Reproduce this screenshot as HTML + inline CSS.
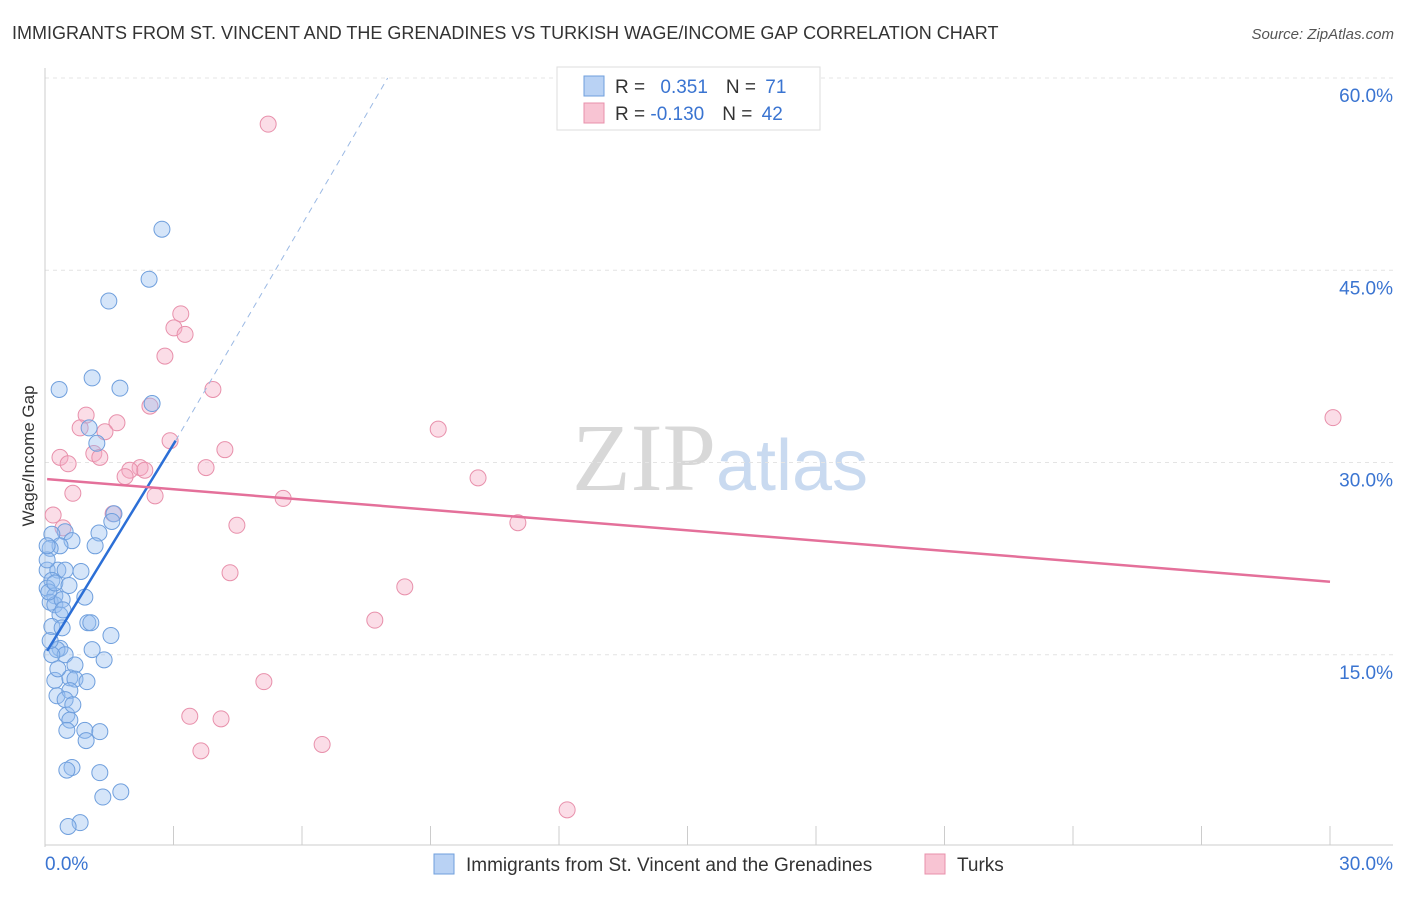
<!DOCTYPE html>
<html><head><meta charset="utf-8"><style>
body{margin:0;background:#fff;font-family:"Liberation Sans",sans-serif;}
</style></head><body>
<svg width="1406" height="892" xmlns="http://www.w3.org/2000/svg" font-family="Liberation Sans, sans-serif">
<text x="12" y="39" font-size="18" fill="#333">IMMIGRANTS FROM ST. VINCENT AND THE GRENADINES VS TURKISH WAGE/INCOME GAP CORRELATION CHART</text>
<text x="1394" y="39" font-size="15" fill="#555" text-anchor="end" font-style="italic">Source: ZipAtlas.com</text>
<text x="720" y="490" font-size="96" text-anchor="middle"><tspan fill="#d8d8d8" font-family="Liberation Serif, serif">ZIP</tspan><tspan fill="#c9daf0" font-size="72">atlas</tspan></text>
<g id="grid"></g>
<g id="axes"></g>
<g id="marks"></g>
<text transform="translate(34,456) rotate(-90)" font-size="17" fill="#333" text-anchor="middle">Wage/Income Gap</text>
<g>
<rect x="557" y="67" width="263" height="63" fill="#fff" stroke="#ddd"/>
<rect x="584" y="76" width="20" height="20" fill="#b9d2f4" stroke="#6f9fdd"/>
<rect x="584" y="103" width="20" height="20" fill="#f8c4d3" stroke="#e890ab"/>
<text x="615" y="93" font-size="19" fill="#333">R = <tspan fill="#3a74d1" dx="10">0.351</tspan><tspan dx="18" fill="#333">N = </tspan><tspan fill="#3a74d1" dx="4">71</tspan></text>
<text x="615" y="120" font-size="19" fill="#333">R = <tspan fill="#3a74d1" dx="0">-0.130</tspan><tspan dx="18" fill="#333">N = </tspan><tspan fill="#3a74d1" dx="4">42</tspan></text>
</g>
<g>
<rect x="434" y="854" width="20" height="20" fill="#b9d2f4" stroke="#6f9fdd"/>
<text x="466" y="871" font-size="19" fill="#333">Immigrants from St. Vincent and the Grenadines</text>
<rect x="925" y="854" width="20" height="20" fill="#f8c4d3" stroke="#e890ab"/>
<text x="957" y="871" font-size="19" fill="#333">Turks</text>
</g>
</svg>
<script>
const yTicks=[15,30,45,60];
const yTickLabels=["15.0%","30.0%","45.0%","60.0%"];
const xTickLabels=["0.0%","30.0%"];
const blueX=[2.73,2.43,1.49,1.10,1.75,0.33,2.50,1.03,1.21,1.61,1.56,1.26,0.47,0.16,0.63,0.35,1.17,0.12,0.05,0.30,0.47,0.84,0.16,0.05,0.23,0.93,0.12,0.23,0.35,1.00,1.07,0.16,0.40,1.54,0.35,0.28,0.47,0.16,1.38,0.70,0.23,0.58,0.70,0.98,0.28,0.58,0.51,0.58,0.51,0.93,1.28,0.96,0.63,0.51,1.28,1.77,1.35,0.82,0.54,0.05,0.09,0.23,0.40,0.30,0.47,0.65,0.12,1.10,0.42,0.05,0.56];
const blueY=[48.2,44.3,42.6,36.6,35.8,35.7,34.6,32.7,31.5,26.0,25.4,24.5,24.6,24.4,23.9,23.5,23.5,23.3,21.6,21.6,21.6,21.5,20.8,20.2,19.6,19.5,19.1,18.9,18.1,17.5,17.5,17.2,17.1,16.5,15.5,15.4,15.0,15.0,14.6,14.2,13.0,13.2,13.1,12.9,11.8,12.2,10.3,9.9,9.1,9.1,9.0,8.3,6.2,6.0,5.8,4.3,3.9,1.9,1.6,22.4,19.9,20.6,19.3,13.9,11.5,11.1,16.1,15.4,18.5,23.5,20.4];
const pinkX=[5.21,3.17,3.01,3.27,2.80,3.92,2.45,0.96,1.68,0.82,1.40,9.18,2.92,4.20,0.35,1.14,1.28,0.54,3.76,2.22,1.98,2.33,1.87,10.11,0.65,2.57,5.56,11.04,1.59,0.19,0.42,4.48,4.32,8.40,7.70,5.11,3.38,4.11,3.64,6.47,12.19,30.07];
const pinkY=[56.4,41.6,40.5,40.0,38.3,35.7,34.4,33.7,33.1,32.7,32.4,32.6,31.7,31.0,30.4,30.7,30.4,29.9,29.6,29.6,29.4,29.4,28.9,28.8,27.6,27.4,27.2,25.3,26.0,25.9,24.9,25.1,21.4,20.3,17.7,12.9,10.2,10.0,7.5,8.0,2.9,33.5];
const blueFit=[0.05,15.3,3.05,31.7,8.0,60.0];
const pinkFit=[0.05,28.7,30.0,20.7];
const NS="http://www.w3.org/2000/svg";
const X0=45,X1=1330,Y0=847,Y60=78;
const sx=v=>X0+(X1-X0)*v/30;
const sy=v=>Y0-(Y0-Y60)*v/60;
function mk(t,a,p){const e=document.createElementNS(NS,t);for(const k in a)e.setAttribute(k,a[k]);p.appendChild(e);return e;}
const grid=document.getElementById('grid'),axes=document.getElementById('axes'),marks=document.getElementById('marks');
yTicks.forEach((t,i)=>{
 const l=mk('line',{x1:X0,x2:1393,y1:sy(t),y2:sy(t),stroke:'#e4e4e4','stroke-dasharray':'4,4'},grid);
 
 const tx=mk('text',{x:1393,y:sy(t)+24,'font-size':19,fill:'#3a74d1','text-anchor':'end'},axes);
 tx.textContent=yTickLabels[i];
 
});
const ax=mk('line',{x1:X0,x2:X0,y1:68,y2:Y0,stroke:'#ccc'},axes);

const bx=mk('line',{x1:X0,x2:1393,y1:Y0-2,y2:Y0-2,stroke:'#ccc'},axes);

for(let i=0;i<=10;i++){const t=mk('line',{x1:sx(i*3),x2:sx(i*3),y1:826,y2:845,stroke:'#ccc'},axes);
 }
[[0,'start',45],[30,'end',1393]].forEach((d,i)=>{const t=mk('text',{x:d[2],y:870,'font-size':19,fill:'#3a74d1','text-anchor':d[1]},axes);t.textContent=xTickLabels[i];
 });
pinkX.forEach((v,i)=>{const c=mk('circle',{cx:sx(v),cy:sy(pinkY[i]),r:8,fill:'rgba(245,170,195,0.4)',stroke:'#e890ab','stroke-width':1},marks);
 });
blueX.forEach((v,i)=>{const c=mk('circle',{cx:sx(v),cy:sy(blueY[i]),r:8,fill:'rgba(150,190,240,0.4)',stroke:'#6f9fdd','stroke-width':1},marks);
 });
let l1=mk('line',{x1:sx(blueFit[0]),y1:sy(blueFit[1]),x2:sx(blueFit[2]),y2:sy(blueFit[3]),stroke:'#2c6fd6','stroke-width':2.5},marks);

let l2=mk('line',{x1:sx(blueFit[2]),y1:sy(blueFit[3]),x2:sx(blueFit[4]),y2:sy(blueFit[5]),stroke:'#9bb9e4','stroke-width':1,'stroke-dasharray':'6,5'},marks);

let l3=mk('line',{x1:sx(pinkFit[0]),y1:sy(pinkFit[1]),x2:sx(pinkFit[2]),y2:sy(pinkFit[3]),stroke:'#e4709a','stroke-width':2.5},marks);

</script>
</body></html>
